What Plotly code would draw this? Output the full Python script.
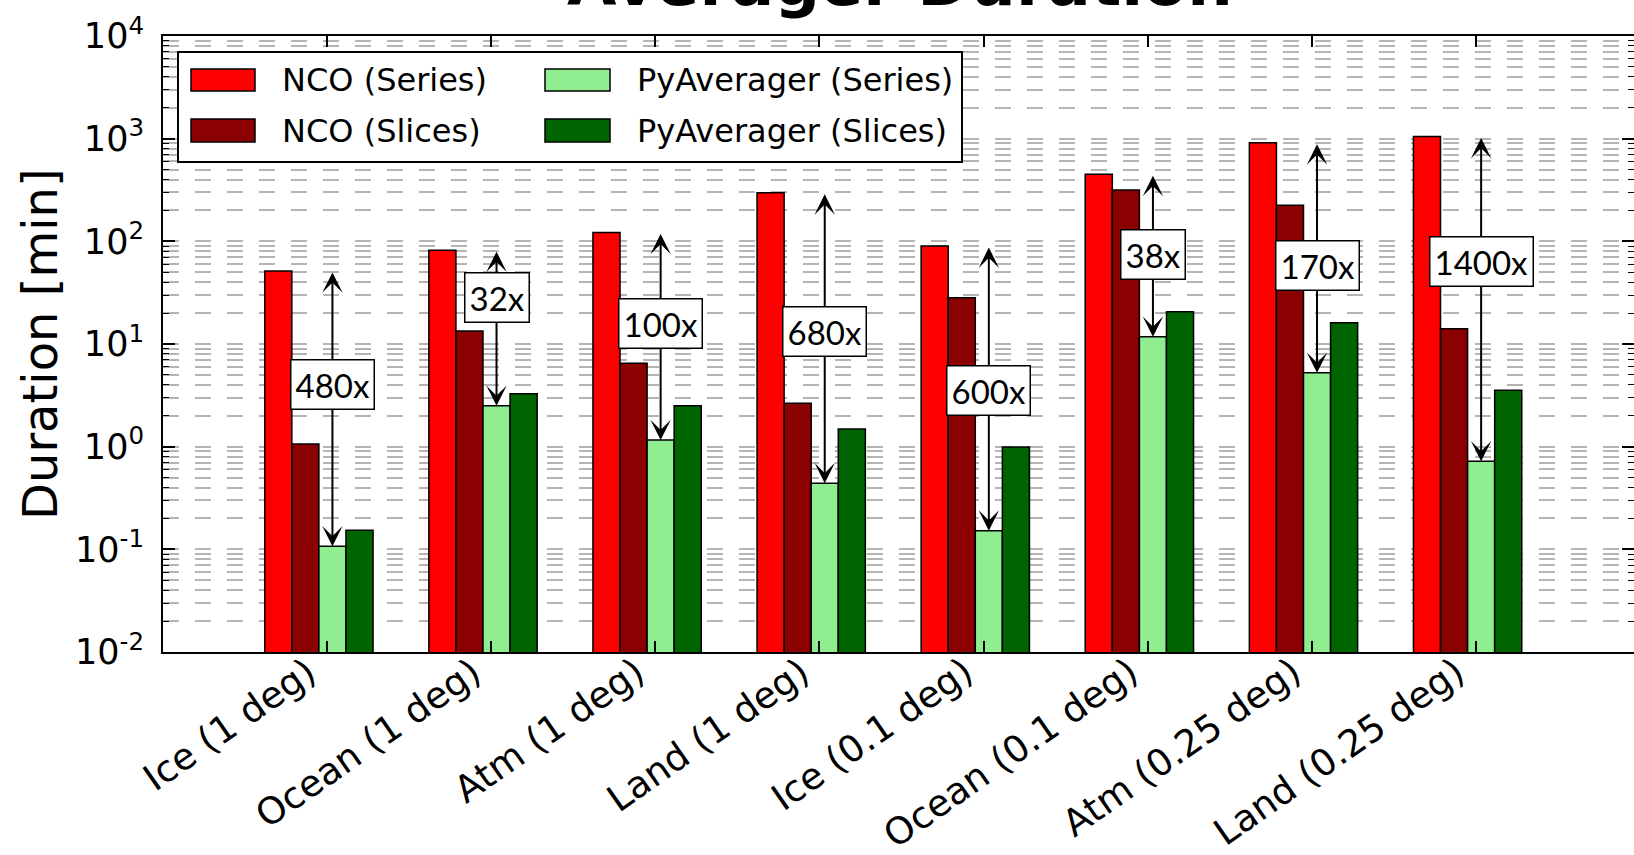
import numpy as np
import plotly.graph_objects as go

# ---------------- data ----------------
categories = ["Ice (1 deg)", "Ocean (1 deg)", "Atm (1 deg)", "Land (1 deg)",
              "Ice (0.1 deg)", "Ocean (0.1 deg)", "Atm (0.25 deg)", "Land (0.25 deg)"]
nco_series = [51.5, 82, 122, 297, 90, 450, 912, 1050]
nco_slices = [1.06, 13.4, 6.5, 2.65, 28.2, 316, 224, 14.1]
pyavg_series = [0.107, 2.5, 1.16, 0.44, 0.152, 11.75, 5.24, 0.72]
pyavg_slices = [0.153, 3.27, 2.5, 1.49, 0.99, 20.6, 16.1, 3.55]
speedup_labels = ["480x", "32x", "100x", "680x", "600x", "38x", "170x", "1400x"]
speedup_label_at = [4.07, 28.5, 15.7, 13.1, 3.49, 74.3, 58.3, 63.8]
series_names = ["NCO (Series)", "NCO (Slices)", "PyAverager (Series)", "PyAverager (Slices)"]
y_tick_exponents = [-2, -1, 0, 1, 2, 3, 4]

# ---------------- style ----------------
colors = ["#ff0000", "#8b0000", "#90ee90", "#006400"]
bar_w = 0.165
offsets = [-0.38, -0.215, -0.05, 0.115]
GRID = "#b4b4b4"
DASH = "16px,16px"
FONT = "DejaVu Sans"

x = list(range(len(categories)))
values = [nco_series, nco_slices, pyavg_series, pyavg_slices]

fig = go.Figure()
for name, vals, col, off in zip(series_names, values, colors, offsets):
    fig.add_trace(go.Bar(
        x=x, y=vals, name=name, width=bar_w, offset=off,
        marker=dict(color=col, line=dict(color="black", width=1.5)),
        showlegend=False,
    ))

major_vals = [10.0 ** e for e in y_tick_exponents]
major_text = ["10<sup>%d</sup>" % e for e in y_tick_exponents]
minor_vals = [m * 10.0 ** e for e in y_tick_exponents[:-1] for m in range(2, 10)]

# plot area geometry (pixels) used for paper-coordinate overlays
L, R, T, B = 163, 1634, 36, 652
def px(xp):
    return (xp - L) / (R - L)
def py(yp):
    return (B - yp) / (B - T)

annotations = []
shapes = []

# arrows + speedup labels
lg_center = offsets[2] + bar_w / 2
for i in x:
    xc = i + lg_center
    annotations.append(dict(
        x=xc, y=np.log10(pyavg_series[i]), ax=xc, ay=np.log10(nco_series[i]),
        xref="x", yref="y", axref="x", ayref="y", text="",
        showarrow=True, arrowside="end+start", arrowhead=3, startarrowhead=3,
        arrowsize=1.7, startarrowsize=1.7, arrowwidth=2, arrowcolor="black",
        standoff=0, startstandoff=0,
    ))
for i in x:
    xc = i + lg_center
    annotations.append(dict(
        x=xc, y=np.log10(speedup_label_at[i]), xref="x", yref="y",
        text=speedup_labels[i], showarrow=False,
        font=dict(family="Lato", size=33, color="black"),
        bgcolor="white", bordercolor="black", borderwidth=1.5, borderpad=4,
        xanchor="center", yanchor="middle",
    ))

# rotated category labels (matplotlib style: right/top aligned at tick)
for i, cat in zip(x, categories):
    annotations.append(dict(
        x=i, y=0, xref="x", yref="paper", text=cat, showarrow=False,
        textangle=-35, xanchor="right", yanchor="top", xshift=0, yshift=5,
        font=dict(family=FONT, size=37, color="black"),
    ))

# custom legend (matplotlib style)
shapes.append(dict(type="rect", xref="paper", yref="paper",
                   x0=px(178), x1=px(962), y0=py(162), y1=py(52),
                   fillcolor="white", line=dict(color="black", width=2), layer="above"))
leg_cols = [(191, 255, 280), (545, 610, 635)]
leg_rows = [(69, 91, 80), (119, 142, 130.5)]
order = [(0, 0), (0, 1), (1, 0), (1, 1)]  # (col,row) for each series
for (c, r), name, col in zip(order, series_names, colors):
    sx0, sx1, tx = leg_cols[c]
    sy0, sy1, ty = leg_rows[r]
    shapes.append(dict(type="rect", xref="paper", yref="paper",
                       x0=px(sx0), x1=px(sx1), y0=py(sy1), y1=py(sy0),
                       fillcolor=col, line=dict(color="black", width=1.5), layer="above"))
    annotations.append(dict(xref="paper", yref="paper", x=px(tx), y=py(ty),
                            text=name, showarrow=False, xanchor="left", yanchor="middle",
                            font=dict(family=FONT, size=32, color="black")))

# title (partly cut off at top in the reference)
annotations.append(dict(xref="paper", yref="paper", x=px(900), y=py(22),
                        text="<b>Averager Duration</b>", showarrow=False,
                        xanchor="center", yanchor="bottom",
                        font=dict(family=FONT, size=64, color="black")))
# y-axis title
annotations.append(dict(xref="paper", yref="paper", x=px(40), y=0.5,
                        text="Duration [min]", showarrow=False, textangle=-90,
                        xanchor="center", yanchor="middle",
                        font=dict(family=FONT, size=48, color="black")))

fig.update_layout(
    width=1634, height=855,
    margin=dict(l=L, r=1634 - R, t=T, b=855 - B, pad=0, autoexpand=False),
    paper_bgcolor="white", plot_bgcolor="white",
    barmode="overlay",
    font=dict(family=FONT, color="black"),
    showlegend=False,
    annotations=annotations,
    shapes=shapes,
    xaxis=dict(
        range=[-1, -1 + (R - L) / 164.1],
        tickmode="array", tickvals=x, showticklabels=False,
        ticks="inside", ticklen=11, tickwidth=1.5, tickcolor="black",
        showline=True, linecolor="black", linewidth=2, mirror="ticks",
        showgrid=False, zeroline=False, automargin=False,
    ),
    yaxis=dict(
        type="log", range=[-2, 4],
        tickmode="array", tickvals=major_vals, ticktext=major_text,
        tickfont=dict(family=FONT, size=35, color="black"),
        ticks="inside", ticklen=12, tickwidth=1.5, tickcolor="black",
        ticklabelstandoff=10, automargin=False,
        showline=True, linecolor="black", linewidth=2, mirror="ticks",
        showgrid=True, gridcolor=GRID, griddash=DASH, gridwidth=1.5,
        zeroline=False,
        minor=dict(tickmode="array", tickvals=minor_vals, ticks="inside", ticklen=6,
                   tickwidth=1, tickcolor="black",
                   showgrid=True, gridcolor=GRID, griddash=DASH, gridwidth=1.5),
    ),
)

fig.write_html("out.html",
               config={"displayModeBar": False},
               post_script="document.body.style.margin='0px';document.body.style.overflow='hidden';")
